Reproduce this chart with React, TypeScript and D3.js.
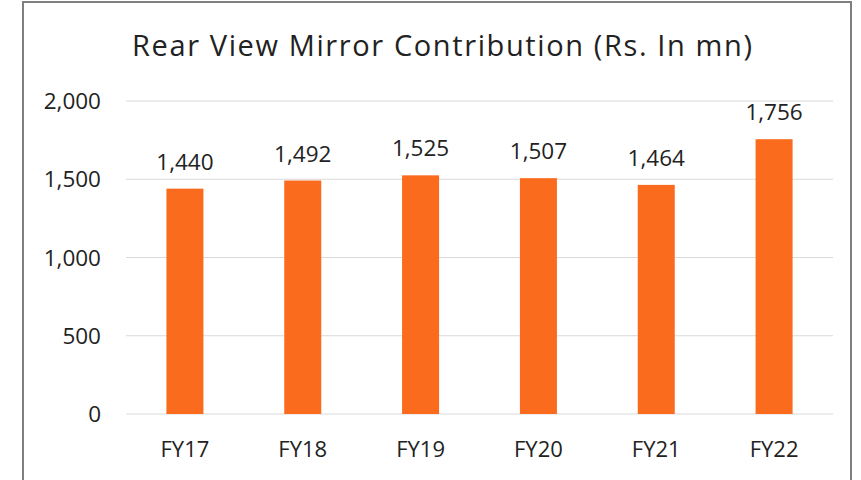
import React from "react";
import * as d3 from "d3";

const categories = ["FY17", "FY18", "FY19", "FY20", "FY21", "FY22"];
const values = [1440, 1492, 1525, 1507, 1464, 1756];
const yTicks = [0, 500, 1000, 1500, 2000];
const title = "Rear View Mirror Contribution (Rs. In mn)";

const W = 861;
const H = 480;
const font = "'Open Sans', sans-serif";
const textColor = "#222";

export default function App() {
  const x = d3.scaleBand<string>().domain(categories).range([126, 833]).paddingInner(0.686).paddingOuter(0.343);
  const y = d3.scaleLinear().domain([0, 2000]).range([414, 101]);
  const fmt = d3.format(",");
  return (
    <svg width={W} height={H} style={{ position: "absolute", left: 0, top: 0, background: "#fff" }}>
      <rect x={23} y={2} width={828} height={500} fill="#fff" stroke="#7f7f7f" strokeWidth={2} />
      <text x={442} y={56} textAnchor="middle" fontFamily={font} fontSize={29} fill={textColor} textLength={620} lengthAdjust="spacing">{title}</text>
      {yTicks.map((t) => (
        <g key={t}>
          <line x1={126} x2={833} y1={y(t)} y2={y(t)} stroke="#d9d9d9" strokeWidth={1.2} />
          <text x={101} y={y(t) + 8} textAnchor="end" fontFamily={font} fontSize={22.5} fill={textColor}>{fmt(t)}</text>
        </g>
      ))}
      {categories.map((c, i) => (
        <g key={c}>
          <rect x={x(c)} y={y(values[i])} width={x.bandwidth()} height={y(0) - y(values[i])} fill="#FA6B1E" />
          <text x={(x(c) as number) + x.bandwidth() / 2} y={y(values[i]) - 19} textAnchor="middle" fontFamily={font} fontSize={22.5} fill={textColor}>{fmt(values[i])}</text>
          <text x={(x(c) as number) + x.bandwidth() / 2} y={457} textAnchor="middle" fontFamily={font} fontSize={22} fill={textColor}>{c}</text>
        </g>
      ))}
    </svg>
  );
}
